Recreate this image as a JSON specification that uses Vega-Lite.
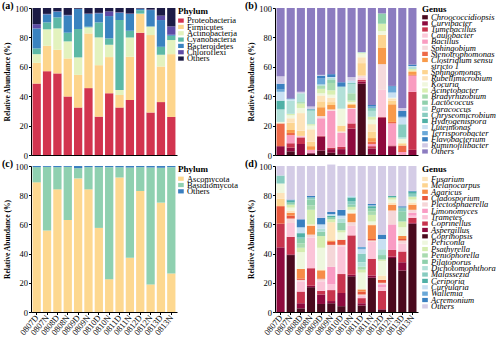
{
"$schema":"https://vega.github.io/schema/vega-lite/v6.json",
"padding":{"left":2,"top":1,"right":0,"bottom":0},
"config":{"font":"Liberation Serif","view":{"stroke":null},
"axis":{"labelFont":"Liberation Serif","labelFontSize":8.5,"labelColor":"black","titleFont":"Liberation Serif","titleFontSize":7.5,"titleFontWeight":"bold","titleColor":"black","domainColor":"black","tickColor":"black","grid":false,"tickSize":2.5,"labelPadding":1,"titlePadding":3},
"title":{"font":"Liberation Serif","fontSize":10,"fontWeight":"bold","color":"black","anchor":"start","frame":"group","offset":-7},
"text":{"font":"Liberation Serif","fontSize":8.5,"color":"black","align":"left","baseline":"top","dx":6,"dy":-4.2,"lineHeight":6.1},
"point":{"shape":"M-1.2,-0.9H1.2V0.9H-1.2Z","filled":true,"opacity":1,"size":22,"strokeWidth":0}},
"datasets":{
"a":[
{"s":"0807D","Proteobacteria":48.6,"Firmicutes":14.1,"Actinobacteria":5.9,"Cyanobacteria":3.9,"Bacteroidetes":13.6,"Chloroflexi":2.9,"Others":11.0},
{"s":"0807N","Proteobacteria":57,"Firmicutes":17.3,"Actinobacteria":11.2,"Cyanobacteria":4.7,"Bacteroidetes":5.5,"Chloroflexi":0.3,"Others":4.0},
{"s":"0808D","Proteobacteria":55.5,"Firmicutes":16.1,"Actinobacteria":14.5,"Cyanobacteria":7.5,"Bacteroidetes":3.9,"Chloroflexi":0.3,"Others":2.2},
{"s":"0808N","Proteobacteria":39.8,"Firmicutes":25.9,"Actinobacteria":11.6,"Cyanobacteria":5.9,"Bacteroidetes":11.8,"Chloroflexi":0.3,"Others":4.7},
{"s":"0809D","Proteobacteria":32.3,"Firmicutes":22.2,"Actinobacteria":11.9,"Cyanobacteria":19.3,"Bacteroidetes":13.6,"Chloroflexi":0.2,"Others":0.5},
{"s":"0809N","Proteobacteria":45.5,"Firmicutes":37.2,"Actinobacteria":4.1,"Cyanobacteria":0.5,"Bacteroidetes":8.6,"Chloroflexi":0.3,"Others":3.8},
{"s":"0810D","Proteobacteria":26.1,"Firmicutes":35,"Actinobacteria":18.9,"Cyanobacteria":10.2,"Bacteroidetes":6.2,"Chloroflexi":0.3,"Others":3.3},
{"s":"0810N","Proteobacteria":42,"Firmicutes":24.6,"Actinobacteria":8.4,"Cyanobacteria":4.3,"Bacteroidetes":15.2,"Chloroflexi":3.2,"Others":2.3},
{"s":"0811D","Proteobacteria":32.3,"Firmicutes":8.6,"Actinobacteria":3.4,"Cyanobacteria":47.5,"Bacteroidetes":5,"Chloroflexi":0.3,"Others":2.9},
{"s":"0811N","Proteobacteria":37.5,"Firmicutes":29.3,"Actinobacteria":13.2,"Cyanobacteria":4.5,"Bacteroidetes":11.4,"Chloroflexi":0.3,"Others":3.8},
{"s":"0812D","Proteobacteria":83.2,"Firmicutes":12.7,"Actinobacteria":0.3,"Cyanobacteria":2.3,"Bacteroidetes":0.9,"Chloroflexi":0.2,"Others":0.4},
{"s":"0812N","Proteobacteria":28.9,"Firmicutes":52.7,"Actinobacteria":5.7,"Cyanobacteria":0.2,"Bacteroidetes":11.1,"Chloroflexi":0.3,"Others":1.1},
{"s":"0813D","Proteobacteria":36,"Firmicutes":24.2,"Actinobacteria":8,"Cyanobacteria":5.4,"Bacteroidetes":18.2,"Chloroflexi":3,"Others":5.2},
{"s":"0813N","Proteobacteria":25.9,"Firmicutes":42.7,"Actinobacteria":9.6,"Cyanobacteria":2.9,"Bacteroidetes":0.7,"Chloroflexi":5.7,"Others":12.5}],
"c":[
{"s":"0807D","Ascomycota":88.8,"Basidiomycota":10.4,"Others":0.8},
{"s":"0807N","Ascomycota":55.8,"Basidiomycota":43.6,"Others":0.6},
{"s":"0808D","Ascomycota":84,"Basidiomycota":15.2,"Others":0.8},
{"s":"0808N","Ascomycota":63,"Basidiomycota":36.4,"Others":0.6},
{"s":"0809D","Ascomycota":91.5,"Basidiomycota":7,"Others":1.5},
{"s":"0809N","Ascomycota":84,"Basidiomycota":15.2,"Others":0.8},
{"s":"0810D","Ascomycota":57.6,"Basidiomycota":41.6,"Others":0.8},
{"s":"0810N","Ascomycota":22.5,"Basidiomycota":76.7,"Others":0.8},
{"s":"0811D","Ascomycota":92.2,"Basidiomycota":7,"Others":0.8},
{"s":"0811N","Ascomycota":37.1,"Basidiomycota":61.9,"Others":1},
{"s":"0812D","Ascomycota":82.9,"Basidiomycota":16.3,"Others":0.8},
{"s":"0812N","Ascomycota":18.9,"Basidiomycota":80.1,"Others":1},
{"s":"0813D","Ascomycota":74.9,"Basidiomycota":23.9,"Others":1.2},
{"s":"0813N","Ascomycota":26.4,"Basidiomycota":72.8,"Others":0.8}],
"b":[
{"s":"0807D","g":"Curvibacter","v":6},{"s":"0807D","g":"Stenotrophomonas","v":15.5},{"s":"0807D","g":"Kocuria","v":1},{"s":"0807D","g":"Paracoccus","v":8.5},{"s":"0807D","g":"Hydrogenispora","v":6},{"s":"0807D","g":"Luteimonas","v":6},{"s":"0807D","g":"Terrisporobacter","v":1.5},{"s":"0807D","g":"Flavobacterium","v":4},{"s":"0807D","g":"Ruminofilibacter","v":5},{"s":"0807D","g":"Others","v":46.5},
{"s":"0807N","g":"Chroococcidiopsis","v":2.5},{"s":"0807N","g":"Curvibacter","v":2.5},{"s":"0807N","g":"Tumebacillus","v":3},{"s":"0807N","g":"Bacillus","v":5.5},{"s":"0807N","g":"Stenotrophomonas","v":1.5},{"s":"0807N","g":"Clostridium sensu stricto 1","v":2},{"s":"0807N","g":"Sphingomonas","v":5},{"s":"0807N","g":"Rubellimicrobium","v":3},{"s":"0807N","g":"Kocuria","v":2},{"s":"0807N","g":"Acinetobacter","v":1},{"s":"0807N","g":"Paracoccus","v":9},{"s":"0807N","g":"Luteimonas","v":1},{"s":"0807N","g":"Flavobacterium","v":0.5},{"s":"0807N","g":"Others","v":61.5},
{"s":"0808D","g":"Curvibacter","v":7.5},{"s":"0808D","g":"Tumebacillus","v":4.5},{"s":"0808D","g":"Caulobacter","v":1},{"s":"0808D","g":"Sphingomonas","v":3.5},{"s":"0808D","g":"Rubellimicrobium","v":12},{"s":"0808D","g":"Kocuria","v":3.5},{"s":"0808D","g":"Acinetobacter","v":3},{"s":"0808D","g":"Bradyrhizobium","v":1},{"s":"0808D","g":"Paracoccus","v":6},{"s":"0808D","g":"Ruminofilibacter","v":1},{"s":"0808D","g":"Others","v":57},
{"s":"0808N","g":"Chroococcidiopsis","v":1},{"s":"0808N","g":"Curvibacter","v":0.5},{"s":"0808N","g":"Bacillus","v":2},{"s":"0808N","g":"Clostridium sensu stricto 1","v":2.5},{"s":"0808N","g":"Sphingomonas","v":3},{"s":"0808N","g":"Rubellimicrobium","v":8.5},{"s":"0808N","g":"Kocuria","v":2.5},{"s":"0808N","g":"Acinetobacter","v":1},{"s":"0808N","g":"Paracoccus","v":9},{"s":"0808N","g":"Chryseomicrobium","v":1},{"s":"0808N","g":"Flavobacterium","v":0.5},{"s":"0808N","g":"Ruminofilibacter","v":1.5},{"s":"0808N","g":"Others","v":67},
{"s":"0809D","g":"Chroococcidiopsis","v":3},{"s":"0809D","g":"Curvibacter","v":9.5},{"s":"0809D","g":"Tumebacillus","v":0.5},{"s":"0809D","g":"Bacillus","v":12},{"s":"0809D","g":"Sphingobium","v":1.5},{"s":"0809D","g":"Clostridium sensu stricto 1","v":6},{"s":"0809D","g":"Sphingomonas","v":4},{"s":"0809D","g":"Rubellimicrobium","v":4},{"s":"0809D","g":"Kocuria","v":1.5},{"s":"0809D","g":"Acinetobacter","v":3},{"s":"0809D","g":"Bradyrhizobium","v":2},{"s":"0809D","g":"Paracoccus","v":1},{"s":"0809D","g":"Terrisporobacter","v":4},{"s":"0809D","g":"Flavobacterium","v":2},{"s":"0809D","g":"Ruminofilibacter","v":0.5},{"s":"0809D","g":"Others","v":45.5},
{"s":"0809N","g":"Chroococcidiopsis","v":1.5},{"s":"0809N","g":"Curvibacter","v":2.5},{"s":"0809N","g":"Tumebacillus","v":1},{"s":"0809N","g":"Bacillus","v":25},{"s":"0809N","g":"Sphingobium","v":1},{"s":"0809N","g":"Clostridium sensu stricto 1","v":3},{"s":"0809N","g":"Sphingomonas","v":2},{"s":"0809N","g":"Rubellimicrobium","v":3},{"s":"0809N","g":"Kocuria","v":2},{"s":"0809N","g":"Acinetobacter","v":3},{"s":"0809N","g":"Bradyrhizobium","v":5},{"s":"0809N","g":"Lactococcus","v":2},{"s":"0809N","g":"Paracoccus","v":1.5},{"s":"0809N","g":"Luteimonas","v":0.5},{"s":"0809N","g":"Flavobacterium","v":2},{"s":"0809N","g":"Others","v":45},
{"s":"0810D","g":"Chroococcidiopsis","v":0.5},{"s":"0810D","g":"Curvibacter","v":3.5},{"s":"0810D","g":"Tumebacillus","v":1.5},{"s":"0810D","g":"Bacillus","v":9.5},{"s":"0810D","g":"Sphingobium","v":1},{"s":"0810D","g":"Sphingomonas","v":4},{"s":"0810D","g":"Kocuria","v":11.5},{"s":"0810D","g":"Paracoccus","v":15},{"s":"0810D","g":"Flavobacterium","v":3},{"s":"0810D","g":"Others","v":50.5},
{"s":"0810N","g":"Curvibacter","v":18},{"s":"0810N","g":"Tumebacillus","v":3.5},{"s":"0810N","g":"Bacillus","v":10},{"s":"0810N","g":"Sphingobium","v":0.5},{"s":"0810N","g":"Clostridium sensu stricto 1","v":2},{"s":"0810N","g":"Sphingomonas","v":1},{"s":"0810N","g":"Kocuria","v":1},{"s":"0810N","g":"Acinetobacter","v":1},{"s":"0810N","g":"Bradyrhizobium","v":5},{"s":"0810N","g":"Paracoccus","v":6},{"s":"0810N","g":"Chryseomicrobium","v":1},{"s":"0810N","g":"Luteimonas","v":1.5},{"s":"0810N","g":"Ruminofilibacter","v":2.5},{"s":"0810N","g":"Others","v":47},
{"s":"0811D","g":"Chroococcidiopsis","v":48.5},{"s":"0811D","g":"Curvibacter","v":1.5},{"s":"0811D","g":"Tumebacillus","v":1},{"s":"0811D","g":"Caulobacter","v":1.5},{"s":"0811D","g":"Sphingobium","v":1.5},{"s":"0811D","g":"Sphingomonas","v":8.5},{"s":"0811D","g":"Rubellimicrobium","v":4},{"s":"0811D","g":"Kocuria","v":2.5},{"s":"0811D","g":"Acinetobacter","v":0.5},{"s":"0811D","g":"Paracoccus","v":0.5},{"s":"0811D","g":"Others","v":30},
{"s":"0811N","g":"Chroococcidiopsis","v":0.5},{"s":"0811N","g":"Curvibacter","v":4},{"s":"0811N","g":"Tumebacillus","v":1.5},{"s":"0811N","g":"Bacillus","v":1.5},{"s":"0811N","g":"Stenotrophomonas","v":1.5},{"s":"0811N","g":"Clostridium sensu stricto 1","v":2.5},{"s":"0811N","g":"Sphingomonas","v":4.5},{"s":"0811N","g":"Rubellimicrobium","v":5},{"s":"0811N","g":"Kocuria","v":3},{"s":"0811N","g":"Acinetobacter","v":2},{"s":"0811N","g":"Paracoccus","v":4},{"s":"0811N","g":"Chryseomicrobium","v":2},{"s":"0811N","g":"Terrisporobacter","v":1},{"s":"0811N","g":"Flavobacterium","v":1},{"s":"0811N","g":"Others","v":66},
{"s":"0812D","g":"Curvibacter","v":25.5},{"s":"0812D","g":"Tumebacillus","v":0.5},{"s":"0812D","g":"Caulobacter","v":18.3},{"s":"0812D","g":"Sphingobium","v":17.5},{"s":"0812D","g":"Clostridium sensu stricto 1","v":11},{"s":"0812D","g":"Sphingomonas","v":9},{"s":"0812D","g":"Kocuria","v":2.5},{"s":"0812D","g":"Acinetobacter","v":5},{"s":"0812D","g":"Lactococcus","v":7},{"s":"0812D","g":"Others","v":3.7},
{"s":"0812N","g":"Curvibacter","v":6},{"s":"0812N","g":"Tumebacillus","v":0.5},{"s":"0812N","g":"Bacillus","v":15},{"s":"0812N","g":"Stenotrophomonas","v":1},{"s":"0812N","g":"Clostridium sensu stricto 1","v":12},{"s":"0812N","g":"Sphingomonas","v":2.5},{"s":"0812N","g":"Rubellimicrobium","v":1.5},{"s":"0812N","g":"Kocuria","v":0.5},{"s":"0812N","g":"Luteimonas","v":3.5},{"s":"0812N","g":"Terrisporobacter","v":4},{"s":"0812N","g":"Flavobacterium","v":0.5},{"s":"0812N","g":"Others","v":53},
{"s":"0813D","g":"Bacillus","v":2},{"s":"0813D","g":"Stenotrophomonas","v":4.5},{"s":"0813D","g":"Sphingomonas","v":1.5},{"s":"0813D","g":"Kocuria","v":3},{"s":"0813D","g":"Paracoccus","v":1},{"s":"0813D","g":"Chryseomicrobium","v":9},{"s":"0813D","g":"Luteimonas","v":4.5},{"s":"0813D","g":"Terrisporobacter","v":0.5},{"s":"0813D","g":"Flavobacterium","v":4},{"s":"0813D","g":"Ruminofilibacter","v":2},{"s":"0813D","g":"Others","v":68},
{"s":"0813N","g":"Curvibacter","v":3.5},{"s":"0813N","g":"Tumebacillus","v":39.5},{"s":"0813N","g":"Bacillus","v":11},{"s":"0813N","g":"Stenotrophomonas","v":0.5},{"s":"0813N","g":"Clostridium sensu stricto 1","v":2},{"s":"0813N","g":"Sphingomonas","v":1},{"s":"0813N","g":"Acinetobacter","v":1},{"s":"0813N","g":"Paracoccus","v":1.5},{"s":"0813N","g":"Luteimonas","v":0.5},{"s":"0813N","g":"Flavobacterium","v":1},{"s":"0813N","g":"Others","v":38.5}],
"d":[
{"s":"0807D","g":"Aspergillus","v":44.3},{"s":"0807D","g":"Coprinellus","v":16.2},{"s":"0807D","g":"Cladosporium","v":12},{"s":"0807D","g":"Melanocarpus","v":5},{"s":"0807D","g":"Fusarium","v":4},{"s":"0807D","g":"Periconia","v":6.5},{"s":"0807D","g":"Malassezia","v":5.5},{"s":"0807D","g":"Others","v":6.5},
{"s":"0807N","g":"Coprinopsis","v":39},{"s":"0807N","g":"Aspergillus","v":0.5},{"s":"0807N","g":"Coprinellus","v":12},{"s":"0807N","g":"Trametes","v":9.5},{"s":"0807N","g":"Plectosphaerella","v":3},{"s":"0807N","g":"Cladosporium","v":2},{"s":"0807N","g":"Agaricus","v":2},{"s":"0807N","g":"Fusarium","v":1.5},{"s":"0807N","g":"Periconia","v":2},{"s":"0807N","g":"Psathyrella","v":2},{"s":"0807N","g":"Pilatoporus","v":1.5},{"s":"0807N","g":"Ceriporia","v":1.5},{"s":"0807N","g":"Acremonium","v":0.5},{"s":"0807N","g":"Others","v":23},
{"s":"0808D","g":"Coprinopsis","v":2.5},{"s":"0808D","g":"Aspergillus","v":3.5},{"s":"0808D","g":"Coprinellus","v":8},{"s":"0808D","g":"Trametes","v":7},{"s":"0808D","g":"Plectosphaerella","v":1},{"s":"0808D","g":"Cladosporium","v":1},{"s":"0808D","g":"Agaricus","v":6.5},{"s":"0808D","g":"Periconia","v":11.5},{"s":"0808D","g":"Psathyrella","v":3},{"s":"0808D","g":"Peniophorella","v":3},{"s":"0808D","g":"Pilatoporus","v":3},{"s":"0808D","g":"Malassezia","v":1},{"s":"0808D","g":"Ceriporia","v":3},{"s":"0808D","g":"Curvularia","v":4},{"s":"0808D","g":"Acremonium","v":5.5},{"s":"0808D","g":"Others","v":36.5},
{"s":"0808N","g":"Coprinopsis","v":17},{"s":"0808N","g":"Aspergillus","v":1},{"s":"0808N","g":"Coprinellus","v":12},{"s":"0808N","g":"Trametes","v":21},{"s":"0808N","g":"Plectosphaerella","v":2},{"s":"0808N","g":"Agaricus","v":6},{"s":"0808N","g":"Fusarium","v":1},{"s":"0808N","g":"Psathyrella","v":10},{"s":"0808N","g":"Peniophorella","v":3},{"s":"0808N","g":"Pilatoporus","v":4},{"s":"0808N","g":"Malassezia","v":1.5},{"s":"0808N","g":"Acremonium","v":1},{"s":"0808N","g":"Others","v":20.5},
{"s":"0809D","g":"Coprinopsis","v":5.5},{"s":"0809D","g":"Aspergillus","v":6.5},{"s":"0809D","g":"Coprinellus","v":2.5},{"s":"0809D","g":"Trametes","v":6.5},{"s":"0809D","g":"Plectosphaerella","v":1.5},{"s":"0809D","g":"Cladosporium","v":0.5},{"s":"0809D","g":"Agaricus","v":5.5},{"s":"0809D","g":"Melanocarpus","v":0.5},{"s":"0809D","g":"Periconia","v":15},{"s":"0809D","g":"Psathyrella","v":8},{"s":"0809D","g":"Pilatoporus","v":3},{"s":"0809D","g":"Dichotomophthora","v":2},{"s":"0809D","g":"Curvularia","v":3},{"s":"0809D","g":"Acremonium","v":4.5},{"s":"0809D","g":"Others","v":35.5},
{"s":"0809N","g":"Coprinopsis","v":6},{"s":"0809N","g":"Aspergillus","v":1.5},{"s":"0809N","g":"Coprinellus","v":7.5},{"s":"0809N","g":"Trametes","v":4},{"s":"0809N","g":"Limonomyces","v":12},{"s":"0809N","g":"Plectosphaerella","v":15},{"s":"0809N","g":"Cladosporium","v":2},{"s":"0809N","g":"Agaricus","v":1},{"s":"0809N","g":"Fusarium","v":12.5},{"s":"0809N","g":"Psathyrella","v":2},{"s":"0809N","g":"Pilatoporus","v":1.5},{"s":"0809N","g":"Ceriporia","v":1},{"s":"0809N","g":"Curvularia","v":1},{"s":"0809N","g":"Acremonium","v":1.5},{"s":"0809N","g":"Others","v":32.5},
{"s":"0810D","g":"Coprinopsis","v":4},{"s":"0810D","g":"Aspergillus","v":9},{"s":"0810D","g":"Coprinellus","v":13},{"s":"0810D","g":"Trametes","v":19},{"s":"0810D","g":"Plectosphaerella","v":1},{"s":"0810D","g":"Cladosporium","v":3.5},{"s":"0810D","g":"Periconia","v":5},{"s":"0810D","g":"Psathyrella","v":1.5},{"s":"0810D","g":"Pilatoporus","v":5},{"s":"0810D","g":"Dichotomophthora","v":3},{"s":"0810D","g":"Curvularia","v":2},{"s":"0810D","g":"Acremonium","v":4},{"s":"0810D","g":"Others","v":30},
{"s":"0810N","g":"Coprinopsis","v":24.5},{"s":"0810N","g":"Aspergillus","v":1},{"s":"0810N","g":"Coprinellus","v":27},{"s":"0810N","g":"Trametes","v":6.5},{"s":"0810N","g":"Plectosphaerella","v":2.5},{"s":"0810N","g":"Agaricus","v":6},{"s":"0810N","g":"Fusarium","v":0.5},{"s":"0810N","g":"Periconia","v":2},{"s":"0810N","g":"Psathyrella","v":2},{"s":"0810N","g":"Pilatoporus","v":1.5},{"s":"0810N","g":"Malassezia","v":2.5},{"s":"0810N","g":"Ceriporia","v":2.5},{"s":"0810N","g":"Curvularia","v":1},{"s":"0810N","g":"Others","v":20.5},
{"s":"0811D","g":"Coprinopsis","v":4.5},{"s":"0811D","g":"Aspergillus","v":1.5},{"s":"0811D","g":"Coprinellus","v":3.5},{"s":"0811D","g":"Trametes","v":1.5},{"s":"0811D","g":"Plectosphaerella","v":1},{"s":"0811D","g":"Cladosporium","v":2},{"s":"0811D","g":"Agaricus","v":1.5},{"s":"0811D","g":"Periconia","v":11.5},{"s":"0811D","g":"Psathyrella","v":2},{"s":"0811D","g":"Peniophorella","v":2},{"s":"0811D","g":"Malassezia","v":6},{"s":"0811D","g":"Dichotomophthora","v":3},{"s":"0811D","g":"Curvularia","v":3},{"s":"0811D","g":"Wallemia","v":1.5},{"s":"0811D","g":"Others","v":55.5},
{"s":"0811N","g":"Coprinopsis","v":23.5},{"s":"0811N","g":"Aspergillus","v":1.5},{"s":"0811N","g":"Coprinellus","v":11.5},{"s":"0811N","g":"Trametes","v":11.5},{"s":"0811N","g":"Plectosphaerella","v":1},{"s":"0811N","g":"Cladosporium","v":1},{"s":"0811N","g":"Agaricus","v":9.5},{"s":"0811N","g":"Fusarium","v":0.5},{"s":"0811N","g":"Periconia","v":2},{"s":"0811N","g":"Psathyrella","v":4.5},{"s":"0811N","g":"Peniophorella","v":2.5},{"s":"0811N","g":"Pilatoporus","v":2},{"s":"0811N","g":"Ceriporia","v":1.5},{"s":"0811N","g":"Curvularia","v":0.5},{"s":"0811N","g":"Acremonium","v":1},{"s":"0811N","g":"Others","v":26},
{"s":"0812D","g":"Coprinopsis","v":1.5},{"s":"0812D","g":"Aspergillus","v":0.5},{"s":"0812D","g":"Coprinellus","v":12.5},{"s":"0812D","g":"Trametes","v":2.5},{"s":"0812D","g":"Limonomyces","v":2},{"s":"0812D","g":"Plectosphaerella","v":1},{"s":"0812D","g":"Cladosporium","v":2},{"s":"0812D","g":"Fusarium","v":3},{"s":"0812D","g":"Periconia","v":10},{"s":"0812D","g":"Psathyrella","v":1},{"s":"0812D","g":"Pilatoporus","v":3},{"s":"0812D","g":"Dichotomophthora","v":4},{"s":"0812D","g":"Curvularia","v":7},{"s":"0812D","g":"Acremonium","v":3},{"s":"0812D","g":"Others","v":47},
{"s":"0812N","g":"Coprinopsis","v":37},{"s":"0812N","g":"Aspergillus","v":1},{"s":"0812N","g":"Coprinellus","v":4.5},{"s":"0812N","g":"Limonomyces","v":17.5},{"s":"0812N","g":"Plectosphaerella","v":9.5},{"s":"0812N","g":"Agaricus","v":4},{"s":"0812N","g":"Fusarium","v":1.5},{"s":"0812N","g":"Periconia","v":2},{"s":"0812N","g":"Psathyrella","v":1.5},{"s":"0812N","g":"Ceriporia","v":1},{"s":"0812N","g":"Others","v":20.5},
{"s":"0813D","g":"Coprinopsis","v":28.5},{"s":"0813D","g":"Aspergillus","v":5.5},{"s":"0813D","g":"Coprinellus","v":7.5},{"s":"0813D","g":"Trametes","v":5.5},{"s":"0813D","g":"Plectosphaerella","v":2},{"s":"0813D","g":"Cladosporium","v":1},{"s":"0813D","g":"Agaricus","v":2},{"s":"0813D","g":"Periconia","v":6},{"s":"0813D","g":"Psathyrella","v":4},{"s":"0813D","g":"Pilatoporus","v":7},{"s":"0813D","g":"Malassezia","v":2.5},{"s":"0813D","g":"Acremonium","v":1},{"s":"0813D","g":"Others","v":27.5},
{"s":"0813N","g":"Coprinopsis","v":60.5},{"s":"0813N","g":"Aspergillus","v":0.5},{"s":"0813N","g":"Coprinellus","v":3.5},{"s":"0813N","g":"Trametes","v":1.5},{"s":"0813N","g":"Limonomyces","v":2},{"s":"0813N","g":"Plectosphaerella","v":2},{"s":"0813N","g":"Agaricus","v":3.5},{"s":"0813N","g":"Fusarium","v":1.5},{"s":"0813N","g":"Periconia","v":2},{"s":"0813N","g":"Psathyrella","v":2},{"s":"0813N","g":"Malassezia","v":2},{"s":"0813N","g":"Ceriporia","v":1.5},{"s":"0813N","g":"Acremonium","v":0.5},{"s":"0813N","g":"Others","v":17}]
},
"resolve":{"scale":{"x":"independent","y":"independent","color":"independent"}},
"spacing":-1,
"vconcat":[
{"spacing":8,"resolve":{"scale":{"x":"independent","y":"independent","color":"independent"}},
"hconcat":[
{"width":146,"height":147,
"title":{"text":"(a)","dx":-29},
"resolve":{"scale":{"x":"independent","y":"independent"}},
"layer":[
{"data":{"name":"a"},
"transform":[{"fold":["Proteobacteria","Firmicutes","Actinobacteria","Cyanobacteria","Bacteroidetes","Chloroflexi","Others"],"as":["g","v"]},
{"calculate":"indexof(['Proteobacteria','Firmicutes','Actinobacteria','Cyanobacteria','Bacteroidetes','Chloroflexi','Others'], datum.g)","as":"o"}],
"mark":{"type":"bar"},
"encoding":{
"x":{"field":"s","type":"nominal","sort":null,"scale":{"paddingInner":0.2,"paddingOuter":0.15},"axis":{"labels":false,"ticks":false,"title":null}},
"y":{"field":"v","type":"quantitative","stack":"zero","scale":{"domain":[0,100],"nice":false},"axis":{"title":"Relative Abundance (%)","values":[0,20,40,60,80,100]}},
"color":{"field":"g","type":"nominal","scale":{"domain":["Proteobacteria","Firmicutes","Actinobacteria","Cyanobacteria","Bacteroidetes","Chloroflexi","Others"],"range":["#D2344F","#FDD58C","#E3F2BE","#5DB9A6","#3A83C0","#5E4BA6","#1C1B45"]},"legend":null},
"order":{"field":"o","type":"quantitative"}}},
{"data":{"name":"a"},
"transform":[{"fold":["Proteobacteria","Firmicutes","Actinobacteria","Cyanobacteria","Bacteroidetes","Chloroflexi","Others"],"as":["g","v"]},{"aggregate":[{"op":"count","as":"n"}],"groupby":["g"]},
{"calculate":"indexof(['Proteobacteria','Firmicutes','Actinobacteria','Cyanobacteria','Bacteroidetes','Chloroflexi','Others'], datum.g)","as":"i"}],
"mark":{"type":"point"},
"encoding":{"x":{"datum":1.027,"type":"quantitative","scale":{"domain":[0,1],"nice":false},"axis":null},
"y":{"field":"i","type":"quantitative","scale":{"domain":[-1.99,21.23],"reverse":true,"nice":false,"zero":false},"axis":null},
"color":{"field":"g","type":"nominal","legend":null}}},
{"data":{"name":"a"},
"transform":[{"fold":["Proteobacteria","Firmicutes","Actinobacteria","Cyanobacteria","Bacteroidetes","Chloroflexi","Others"],"as":["g","v"]},{"aggregate":[{"op":"count","as":"n"}],"groupby":["g"]},
{"calculate":"indexof(['Proteobacteria','Firmicutes','Actinobacteria','Cyanobacteria','Bacteroidetes','Chloroflexi','Others'], datum.g)","as":"i"}],
"mark":{"type":"text"},
"encoding":{"x":{"datum":1.027,"type":"quantitative","scale":{"domain":[0,1],"nice":false},"axis":null},
"y":{"field":"i","type":"quantitative","scale":{"domain":[-1.99,21.23],"reverse":true,"nice":false,"zero":false},"axis":null},
"text":{"field":"g","type":"nominal"}}},
{"data":{"values":[{"h":"Phylum"}]},
"mark":{"type":"text","fontWeight":"bold","fontSize":9,"dx":-3,"dy":-4.4},
"encoding":{"x":{"datum":1.027,"type":"quantitative","scale":{"domain":[0,1],"nice":false},"axis":null},
"y":{"datum":-1.47,"type":"quantitative","scale":{"domain":[-1.99,21.23],"reverse":true,"nice":false,"zero":false},"axis":null},
"text":{"field":"h","type":"nominal"}}}]},
{"width":143,"height":147,
"title":{"text":"(b)","dx":-30},
"resolve":{"scale":{"x":"independent","y":"independent"}},
"layer":[
{"data":{"name":"b"},
"transform":[{"calculate":"indexof(['Chroococcidiopsis','Curvibacter','Tumebacillus','Caulobacter','Bacillus','Sphingobium','Stenotrophomonas','Clostridium sensu stricto 1','Sphingomonas','Rubellimicrobium','Kocuria','Acinetobacter','Bradyrhizobium','Lactococcus','Paracoccus','Chryseomicrobium','Hydrogenispora','Luteimonas','Terrisporobacter','Flavobacterium','Ruminofilibacter','Others'], datum.g)","as":"o"}],
"mark":{"type":"bar"},
"encoding":{
"x":{"field":"s","type":"nominal","sort":null,"scale":{"paddingInner":0.2,"paddingOuter":0.15},"axis":{"labels":false,"ticks":false,"title":null}},
"y":{"field":"v","type":"quantitative","stack":"zero","scale":{"domain":[0,100],"nice":false},"axis":{"title":"Relative Abundance (%)","values":[0,20,40,60,80,100]}},
"color":{"field":"g","type":"nominal","scale":{"domain":["Chroococcidiopsis","Curvibacter","Tumebacillus","Caulobacter","Bacillus","Sphingobium","Stenotrophomonas","Clostridium sensu stricto 1","Sphingomonas","Rubellimicrobium","Kocuria","Acinetobacter","Bradyrhizobium","Lactococcus","Paracoccus","Chryseomicrobium","Hydrogenispora","Luteimonas","Terrisporobacter","Flavobacterium","Ruminofilibacter","Others"],"range":["#4A0A1E","#8E0A3E","#C8344E","#FBC8D8","#F99CC0","#F5DADC","#EE6A48","#F89A4A","#FDD490","#FDE3BA","#F0F7DE","#D9EFB2","#A9DBB0","#8FD0AC","#B2E0D8","#88CCC0","#4FB0A6","#C8E0F2","#6AA8D8","#3A80C0","#D0C8E4","#8C7CC0"]},"legend":null},
"order":{"field":"o","type":"quantitative"}}},
{"data":{"name":"b"},
"transform":[{"aggregate":[{"op":"count","as":"n"}],"groupby":["g"]},
{"calculate":"indexof(['Chroococcidiopsis','Curvibacter','Tumebacillus','Caulobacter','Bacillus','Sphingobium','Stenotrophomonas','Clostridium sensu stricto 1','','Sphingomonas','Rubellimicrobium','Kocuria','Acinetobacter','Bradyrhizobium','Lactococcus','Paracoccus','Chryseomicrobium','Hydrogenispora','Luteimonas','Terrisporobacter','Flavobacterium','Ruminofilibacter','Others'], datum.g)","as":"i"}],
"mark":{"type":"point"},
"encoding":{"x":{"datum":1.049,"type":"quantitative","scale":{"domain":[0,1],"nice":false},"axis":null},
"y":{"field":"i","type":"quantitative","scale":{"domain":[-1.52,22.58],"reverse":true,"nice":false,"zero":false},"axis":null},
"color":{"field":"g","type":"nominal","legend":null}}},
{"data":{"name":"b"},
"transform":[{"aggregate":[{"op":"count","as":"n"}],"groupby":["g"]},
{"calculate":"indexof(['Chroococcidiopsis','Curvibacter','Tumebacillus','Caulobacter','Bacillus','Sphingobium','Stenotrophomonas','Clostridium sensu stricto 1','','Sphingomonas','Rubellimicrobium','Kocuria','Acinetobacter','Bradyrhizobium','Lactococcus','Paracoccus','Chryseomicrobium','Hydrogenispora','Luteimonas','Terrisporobacter','Flavobacterium','Ruminofilibacter','Others'], datum.g)","as":"i"},
{"calculate":"datum.g == 'Clostridium sensu stricto 1' ? ['Clostridium sensu','stricto 1'] : datum.g","as":"lab"}],
"mark":{"type":"text","fontStyle":"italic"},
"encoding":{"x":{"datum":1.049,"type":"quantitative","scale":{"domain":[0,1],"nice":false},"axis":null},
"y":{"field":"i","type":"quantitative","scale":{"domain":[-1.52,22.58],"reverse":true,"nice":false,"zero":false},"axis":null},
"text":{"field":"lab","type":"nominal"}}},
{"data":{"values":[{"h":"Genus"}]},
"mark":{"type":"text","fontWeight":"bold","fontSize":9,"dx":-3,"dy":-4.4},
"encoding":{"x":{"datum":1.049,"type":"quantitative","scale":{"domain":[0,1],"nice":false},"axis":null},
"y":{"datum":-1.36,"type":"quantitative","scale":{"domain":[-1.52,22.58],"reverse":true,"nice":false,"zero":false},"axis":null},
"text":{"field":"h","type":"nominal"}}}]}
]},
{"spacing":7,"resolve":{"scale":{"x":"independent","y":"independent","color":"independent"}},
"hconcat":[
{"width":146,"height":146,
"title":{"text":"(c)","dx":-29},
"resolve":{"scale":{"x":"independent","y":"independent"}},
"layer":[
{"data":{"name":"c"},
"transform":[{"fold":["Ascomycota","Basidiomycota","Others"],"as":["g","v"]},
{"calculate":"indexof(['Ascomycota','Basidiomycota','Others'], datum.g)","as":"o"}],
"mark":{"type":"bar"},
"encoding":{
"x":{"field":"s","type":"nominal","sort":null,"scale":{"paddingInner":0.2,"paddingOuter":0.15},"axis":{"labelAngle":-50,"title":null}},
"y":{"field":"v","type":"quantitative","stack":"zero","scale":{"domain":[0,100],"nice":false},"axis":{"title":"Relative Abundance (%)","values":[0,20,40,60,80,100]}},
"color":{"field":"g","type":"nominal","scale":{"domain":["Ascomycota","Basidiomycota","Others"],"range":["#FDD890","#8FD0B0","#3A7FC0"]},"legend":null},
"order":{"field":"o","type":"quantitative"}}},
{"data":{"name":"c"},
"transform":[{"fold":["Ascomycota","Basidiomycota","Others"],"as":["g","v"]},{"aggregate":[{"op":"count","as":"n"}],"groupby":["g"]},
{"calculate":"indexof(['Ascomycota','Basidiomycota','Others'], datum.g)","as":"i"}],
"mark":{"type":"point"},
"encoding":{"x":{"datum":1.027,"type":"quantitative","scale":{"domain":[0,1],"nice":false},"axis":null},
"y":{"field":"i","type":"quantitative","scale":{"domain":[-2.02,21.15],"reverse":true,"nice":false,"zero":false},"axis":null},
"color":{"field":"g","type":"nominal","legend":null}}},
{"data":{"name":"c"},
"transform":[{"fold":["Ascomycota","Basidiomycota","Others"],"as":["g","v"]},{"aggregate":[{"op":"count","as":"n"}],"groupby":["g"]},
{"calculate":"indexof(['Ascomycota','Basidiomycota','Others'], datum.g)","as":"i"}],
"mark":{"type":"text"},
"encoding":{"x":{"datum":1.027,"type":"quantitative","scale":{"domain":[0,1],"nice":false},"axis":null},
"y":{"field":"i","type":"quantitative","scale":{"domain":[-2.02,21.15],"reverse":true,"nice":false,"zero":false},"axis":null},
"text":{"field":"g","type":"nominal"}}},
{"data":{"values":[{"h":"Phylum"}]},
"mark":{"type":"text","fontWeight":"bold","fontSize":9,"dx":-3,"dy":-4.4},
"encoding":{"x":{"datum":1.027,"type":"quantitative","scale":{"domain":[0,1],"nice":false},"axis":null},
"y":{"datum":-1.43,"type":"quantitative","scale":{"domain":[-2.02,21.15],"reverse":true,"nice":false,"zero":false},"axis":null},
"text":{"field":"h","type":"nominal"}}}]},
{"width":143,"height":146,
"title":{"text":"(d)","dx":-30},
"resolve":{"scale":{"x":"independent","y":"independent"}},
"layer":[
{"data":{"name":"d"},
"transform":[{"calculate":"indexof(['Coprinopsis','Aspergillus','Coprinellus','Trametes','Limonomyces','Plectosphaerella','Cladosporium','Agaricus','Melanocarpus','Fusarium','Periconia','Psathyrella','Peniophorella','Pilatoporus','Dichotomophthora','Malassezia','Ceriporia','Curvularia','Wallemia','Acremonium','Others'], datum.g)","as":"o"}],
"mark":{"type":"bar"},
"encoding":{
"x":{"field":"s","type":"nominal","sort":null,"scale":{"paddingInner":0.2,"paddingOuter":0.15},"axis":{"labelAngle":-50,"title":null}},
"y":{"field":"v","type":"quantitative","stack":"zero","scale":{"domain":[0,100],"nice":false},"axis":{"title":"Relative Abundance (%)","values":[0,20,40,60,80,100]}},
"color":{"field":"g","type":"nominal","scale":{"domain":["Fusarium","Melanocarpus","Agaricus","Cladosporium","Plectosphaerella","Limonomyces","Trametes","Coprinellus","Aspergillus","Coprinopsis","Periconia","Psathyrella","Peniophorella","Pilatoporus","Dichotomophthora","Malassezia","Ceriporia","Curvularia","Wallemia","Acremonium","Others"],"range":["#FDE3BA","#FDD490","#F78C48","#E8573C","#F5D6D8","#F99CC4","#FBC4D8","#C8344E","#8E0A3E","#4A0A1E","#EEF7DE","#D5EDB0","#A9DBB0","#8FD0AC","#B2E0D8","#88CCC0","#4FB0A6","#C8E0F2","#6AA8D8","#3A80C0","#D4CCE6"]},"legend":null},
"order":{"field":"o","type":"quantitative"}}},
{"data":{"name":"d"},
"transform":[{"aggregate":[{"op":"count","as":"n"}],"groupby":["g"]},
{"calculate":"indexof(['Fusarium','Melanocarpus','Agaricus','Cladosporium','Plectosphaerella','Limonomyces','Trametes','Coprinellus','Aspergillus','Coprinopsis','Periconia','Psathyrella','Peniophorella','Pilatoporus','Dichotomophthora','Malassezia','Ceriporia','Curvularia','Wallemia','Acremonium','Others'], datum.g)","as":"i"}],
"mark":{"type":"point"},
"encoding":{"x":{"datum":1.049,"type":"quantitative","scale":{"domain":[0,1],"nice":false},"axis":null},
"y":{"field":"i","type":"quantitative","scale":{"domain":[-2.04,20.88],"reverse":true,"nice":false,"zero":false},"axis":null},
"color":{"field":"g","type":"nominal","legend":null}}},
{"data":{"name":"d"},
"transform":[{"aggregate":[{"op":"count","as":"n"}],"groupby":["g"]},
{"calculate":"indexof(['Fusarium','Melanocarpus','Agaricus','Cladosporium','Plectosphaerella','Limonomyces','Trametes','Coprinellus','Aspergillus','Coprinopsis','Periconia','Psathyrella','Peniophorella','Pilatoporus','Dichotomophthora','Malassezia','Ceriporia','Curvularia','Wallemia','Acremonium','Others'], datum.g)","as":"i"}],
"mark":{"type":"text","fontStyle":"italic"},
"encoding":{"x":{"datum":1.049,"type":"quantitative","scale":{"domain":[0,1],"nice":false},"axis":null},
"y":{"field":"i","type":"quantitative","scale":{"domain":[-2.04,20.88],"reverse":true,"nice":false,"zero":false},"axis":null},
"text":{"field":"g","type":"nominal"}}},
{"data":{"values":[{"h":"Genus"}]},
"mark":{"type":"text","fontWeight":"bold","fontSize":9,"dx":-3,"dy":-4.4},
"encoding":{"x":{"datum":1.049,"type":"quantitative","scale":{"domain":[0,1],"nice":false},"axis":null},
"y":{"datum":-1.46,"type":"quantitative","scale":{"domain":[-2.04,20.88],"reverse":true,"nice":false,"zero":false},"axis":null},
"text":{"field":"h","type":"nominal"}}}]}
]}
]
}
